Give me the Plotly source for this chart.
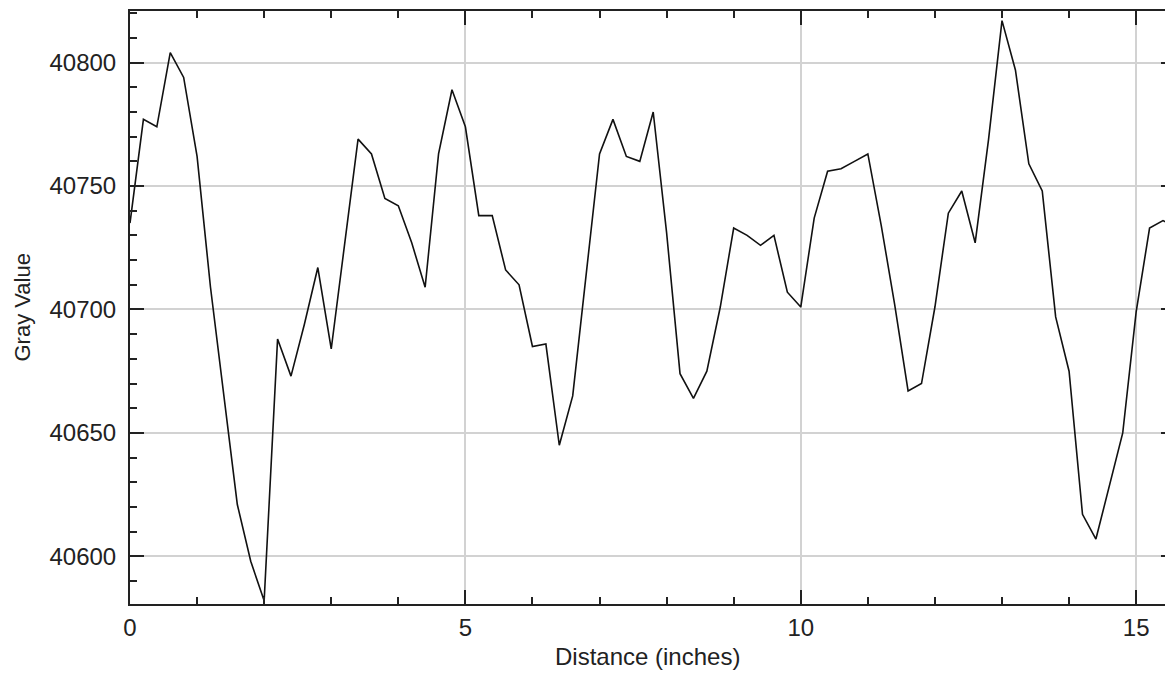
import plotly.graph_objects as go

# Gray value profile, sampled every 0.2 inch
distance_step = 0.2
gray_values = [
    40735, 40777, 40774, 40804, 40794, 40762, 40709, 40665, 40621, 40598,
    40582, 40688, 40673, 40694, 40717, 40684, 40726, 40769, 40763, 40745,
    40742, 40727, 40709, 40763, 40789, 40774, 40738, 40738, 40716, 40710,
    40685, 40686, 40645, 40665, 40714, 40763, 40777, 40762, 40760, 40780,
    40731, 40674, 40664, 40675, 40701, 40733, 40730, 40726, 40730, 40707,
    40701, 40737, 40756, 40757, 40760, 40763, 40734, 40702, 40667, 40670,
    40701, 40739, 40748, 40727, 40769, 40817, 40797, 40759, 40748, 40697,
    40675, 40617, 40607, 40629, 40650, 40699, 40733, 40736, 40733,
]
distance = [round(i * distance_step, 1) for i in range(len(gray_values))]

x_title = "Distance (inches)"
y_title = "Gray Value"
x_range = [0, 15.43]
y_range = [40580.7, 40820.9]

axis_col = "#222222"
grid_col = "#d2d2d2"
font = dict(family="Liberation Sans, Arial, sans-serif", size=24, color="#222222")
yfont = dict(family="Liberation Sans, Arial, sans-serif", size=22, color="#222222")

fig = go.Figure()
fig.add_trace(go.Scatter(x=distance, y=gray_values, mode="lines",
                         line=dict(color="#111111", width=1.6),
                         hoverinfo="skip", showlegend=False))
fig.add_trace(go.Scatter(x=[None], y=[None], yaxis="y2", showlegend=False))

fig.update_layout(
    width=1165, height=673,
    margin=dict(l=130, r=0, t=11, b=69, autoexpand=False),
    paper_bgcolor="white", plot_bgcolor="white",
    showlegend=False,
    xaxis=dict(
        range=x_range, tick0=0, dtick=5, automargin=False,
        ticks="inside", ticklen=14, tickwidth=2, tickcolor=axis_col,
        showline=True, linecolor=axis_col, linewidth=2, mirror="ticks",
        showgrid=True, gridcolor=grid_col, gridwidth=2, zeroline=False,
        minor=dict(tick0=0, dtick=1, ticks="inside", ticklen=7, tickwidth=2,
                   tickcolor=axis_col, showgrid=False),
        tickfont=font, ticklabelstandoff=1,
    ),
    yaxis=dict(
        range=y_range, tick0=40600, dtick=50, tickformat="d", automargin=False,
        ticks="inside", ticklen=14, tickwidth=2, tickcolor=axis_col,
        showline=True, linecolor=axis_col, linewidth=2, mirror=False,
        showgrid=True, gridcolor=grid_col, gridwidth=2, zeroline=False,
        minor=dict(tick0=40600, dtick=10, ticks="inside", ticklen=7, tickwidth=2,
                   tickcolor=axis_col, showgrid=False),
        tickfont=font, ticklabelstandoff=7,
    ),
    yaxis2=dict(
        overlaying="y", side="right", range=y_range, tick0=40600, dtick=50,
        automargin=False,
        ticks="inside", ticklen=4, tickwidth=2, tickcolor=axis_col,
        showticklabels=False, showgrid=False, showline=False, zeroline=False,
    ),
    annotations=[
        dict(text=x_title, xref="paper", yref="paper", x=0.5, y=-0.0885,
             xanchor="center", yanchor="middle", showarrow=False, font=font),
        dict(text=y_title, xref="paper", yref="paper", x=-0.1039, y=0.5008,
             xanchor="center", yanchor="middle", textangle=-90,
             showarrow=False, font=yfont),
    ],
)

fig.write_html(
    "out.html",
    config={"displayModeBar": False},
    post_script="document.body.style.margin='0';document.body.style.overflow='hidden';",
)
